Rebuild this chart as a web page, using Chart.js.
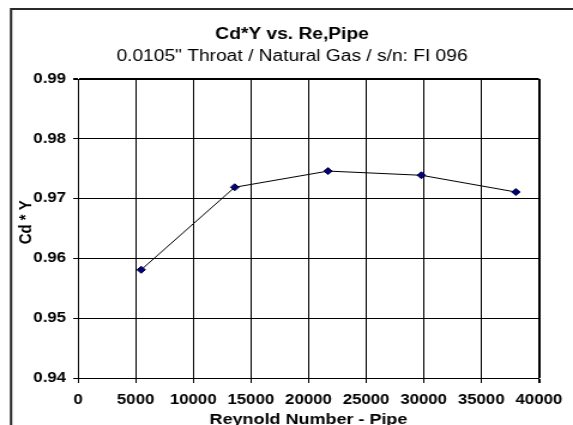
<!DOCTYPE html>
<html>
<head>
<meta charset="utf-8">
<script src="https://cdn.jsdelivr.net/npm/chart.js"></script>
<style>
  html, body { margin: 0; padding: 0; background: #fff; overflow: hidden; }
</style>
</head>
<body>
<!-- the reference looks stretched sideways, so draw narrow and widen with CSS -->
<canvas id="chart" width="478" height="425" style="display:block;width:573px;height:425px"></canvas>
<script>
// Reynolds number (pipe) vs Cd*Y
const reynolds = [5480, 13600, 21700, 29800, 38000];
const cdY = [0.9581, 0.9719, 0.9746, 0.9739, 0.9711];

const xTickLabels = ['0', '5000', '10000', '15000', '20000', '25000', '30000', '35000', '40000'];
const yTickLabels = ['0.94', '0.95', '0.96', '0.97', '0.98', '0.99'];

const FONT = 'Liberation Sans, Arial, sans-serif';

// white page + the outer chart frame (runs off the right and bottom edge)
const framePlugin = {
  id: 'framePlugin',
  beforeDraw: (chart) => {
    const { ctx, width, height } = chart;
    ctx.save();
    ctx.fillStyle = '#ffffff';
    ctx.fillRect(0, 0, width, height);
    ctx.strokeStyle = '#2a2a2a';
    ctx.lineWidth = 2;
    ctx.strokeRect(9.2, 9, width + 20, height + 20);
    ctx.restore();
  },
};

const ctx = document.getElementById('chart').getContext('2d');

new Chart(ctx, {
  type: 'scatter',
  data: {
    datasets: [
      {
        label: 'Cd*Y',
        data: reynolds.map((re, i) => ({ x: re, y: cdY[i] })),
        showLine: true,
        borderColor: '#000000',
        borderWidth: 1,
        pointStyle: 'rectRot',
        pointRadius: 3.5,
        pointBackgroundColor: '#000080',
        pointBorderColor: '#00002a',
        pointBorderWidth: 1,
      },
    ],
  },
  options: {
    responsive: false,
    devicePixelRatio: 1,
    animation: false,
    layout: {
      autoPadding: false,
      padding: { left: 9.2, right: 0, top: 9, bottom: 0 },
    },
    scales: {
      x: {
        type: 'linear',
        min: 0,
        max: 40000,
        afterFit: (scale) => { scale.height = 47; },
        ticks: {
          stepSize: 5000,
          color: '#000',
          padding: 9,
          maxRotation: 0,
          font: { family: FONT, size: 14, weight: 'bold' },
          callback: (value, index) => xTickLabels[index],
        },
        grid: {
          color: '#000',
          tickColor: '#000',
          tickLength: 5,
          lineWidth: (c) => (c.index === xTickLabels.length - 1 ? 2 : 1),
        },
        border: { color: '#000', width: 1 },
        title: {
          display: true,
          text: 'Reynold Number - Pipe',
          color: '#000',
          padding: { top: 0, bottom: 0 },
          font: { family: FONT, size: 15, weight: 'bold', lineHeight: 0.667 },
        },
      },
      y: {
        min: 0.94,
        max: 0.99,
        afterFit: (scale) => { scale.width = 55.9; },
        ticks: {
          stepSize: 0.01,
          color: '#000',
          padding: 6,
          font: { family: FONT, size: 14, weight: 'bold' },
          callback: (value, index) => yTickLabels[index],
        },
        grid: {
          color: '#000',
          tickColor: '#000',
          tickLength: 4,
          lineWidth: (c) => (c.index === yTickLabels.length - 1 ? 2 : 1),
        },
        border: { color: '#000', width: 1 },
        title: {
          display: true,
          // leading spaces nudge the rotated text a little above centre, like the reference
          text: '   Cd * Y',
          color: '#000',
          padding: { top: 3.3, bottom: 0 },
          font: { family: FONT, size: 15, weight: 'bold' },
        },
      },
      // empty right-hand strip so the titles centre where the reference has them
      yRight: {
        position: 'right',
        display: true,
        afterFit: (scale) => { scale.width = 19.2; },
        grid: { display: false },
        border: { display: false },
        ticks: { display: false },
      },
    },
    plugins: {
      legend: { display: false },
      tooltip: { enabled: false },
      title: {
        display: true,
        text: 'Cd*Y vs. Re,Pipe',
        color: '#000',
        padding: { top: 16, bottom: 0 },
        font: { family: FONT, size: 16, weight: 'bold' },
      },
      subtitle: {
        display: true,
        text: '0.0105" Throat / Natural Gas / s/n: FI 096',
        color: '#000',
        padding: { top: 2.7, bottom: 12.9 },
        font: { family: FONT, size: 16, weight: 'normal' },
      },
    },
  },
  plugins: [framePlugin],
});
</script>
</body>
</html>
